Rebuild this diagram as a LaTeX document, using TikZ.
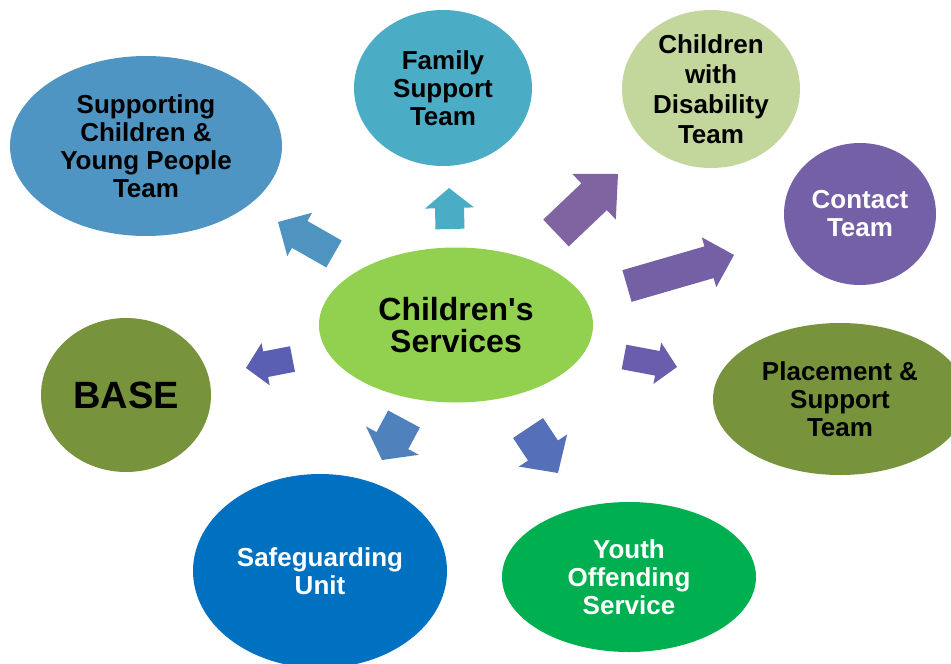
\documentclass[tikz,border=0pt]{standalone}
\usepackage{fontspec}
\setmainfont{Liberation Sans}[Ligatures=TeXOff]
\usetikzlibrary{shapes.geometric,calc}
\definecolor{csup}{HTML}{4E95C3}
\definecolor{cfam}{HTML}{4BACC6}
\definecolor{cdis}{HTML}{C3D69B}
\definecolor{ccon}{HTML}{7460A7}
\definecolor{colive}{HTML}{77933C}
\definecolor{csaf}{HTML}{0070C0}
\definecolor{cyou}{HTML}{00B050}
\definecolor{cctr}{HTML}{92D050}
\definecolor{aone}{HTML}{4BACC6}
\definecolor{atwo}{HTML}{4F94C0}
\definecolor{athree}{HTML}{8064A2}
\definecolor{afour}{HTML}{7560A6}
\definecolor{afive}{HTML}{6A5DAD}
\definecolor{asix}{HTML}{5B5FB2}
\definecolor{aseven}{HTML}{4F81BD}
\definecolor{aeight}{HTML}{5570B8}
\newcommand{\blockarrow}[7]{%
  \coordinate (#1-b) at #3;
  \coordinate (#1-t) at #4;
  \coordinate (#1-h) at ($(#1-t)!#7!(#1-b)$);
  \fill[#2] ($(#1-b)!#5!90:(#1-t)$) -- ($(#1-h)!#5!90:(#1-t)$) -- ($(#1-h)!#6!90:(#1-t)$)
    -- (#1-t) -- ($(#1-h)!#6!-90:(#1-t)$) -- ($(#1-h)!#5!-90:(#1-t)$) -- ($(#1-b)!#5!-90:(#1-t)$) -- cycle;
}
\tikzset{
  ell/.style={ellipse, draw=none, inner sep=0pt},
  lbl/.style={align=center, inner sep=0pt, font=\fontsize{26}{28}\selectfont\bfseries},
}
\begin{document}
\begin{tikzpicture}[x=1pt,y=-1pt]
\useasboundingbox (0,0) rectangle (951,664);
\fill[white] (0,0) rectangle (951,664);
% ellipses
\node[ell, fill=csup, minimum width=272pt, minimum height=180pt] (sup) at (146,146) {};
\node[ell, fill=cfam, minimum width=178pt, minimum height=156pt] (fam) at (443,88) {};
\node[ell, fill=cdis, minimum width=178pt, minimum height=158pt] (dis) at (711,89) {};
\node[ell, fill=ccon, minimum width=152pt, minimum height=142pt] (con) at (860,214) {};
\node[ell, fill=colive, minimum width=254pt, minimum height=152pt] (pla) at (840,399) {};
\node[ell, fill=colive, minimum width=170pt, minimum height=154pt] (base) at (126,395) {};
\node[ell, fill=csaf, minimum width=254pt, minimum height=194pt] (saf) at (320,571) {};
\node[ell, fill=cyou, minimum width=254pt, minimum height=150pt] (you) at (629,577) {};
\node[ell, fill=cctr, minimum width=274pt, minimum height=155pt] (ctr) at (456,325) {};
% labels
\node[lbl] (supt) at (sup) {Supporting\\Children \&\\Young People\\Team};
\node[lbl] (famt) at (fam) {Family\\Support\\Team};
\node[lbl, font=\fontsize{26}{30}\selectfont\bfseries] (dist) at (dis) {Children\\with\\Disability\\Team};
\node[lbl, text=white] (cont) at (con) {Contact\\Team};
\node[lbl] (plat) at (pla) {Placement \&\\Support\\Team};
\node[lbl, font=\fontsize{38}{40}\selectfont\bfseries] (baset) at (base) {BASE};
\node[lbl, text=white] (saft) at (saf) {Safeguarding\\Unit};
\node[lbl, text=white] (yout) at (you) {Youth\\Offending\\Service};
\node[lbl, font=\fontsize{32}{32}\selectfont\bfseries] (ctrt) at (ctr) {Children's\\Services};
% arrows
\blockarrow{a1}{aone}{(450,229)}{(449,188)}{14.5pt}{24.5pt}{20pt}
\blockarrow{a2}{atwo}{(334,254)}{(278,222)}{15.5pt}{25pt}{25pt}
\blockarrow{a3}{athree}{(556,233)}{(618,174)}{18.5pt}{31.5pt}{33pt}
\blockarrow{a4}{afour}{(627,286)}{(734,255)}{16.5pt}{26pt}{26pt}
\blockarrow{a5}{afive}{(624,357)}{(677,367)}{12.5pt}{21pt}{20pt}
\blockarrow{a6}{asix}{(292.5,359)}{(246,368)}{13pt}{21.5pt}{20pt}
\blockarrow{a7}{aseven}{(404,419)}{(382,460)}{18pt}{30pt}{22pt}
\blockarrow{a8}{aeight}{(528,428)}{(558,473)}{18pt}{29pt}{27pt}
\end{tikzpicture}
\end{document}
